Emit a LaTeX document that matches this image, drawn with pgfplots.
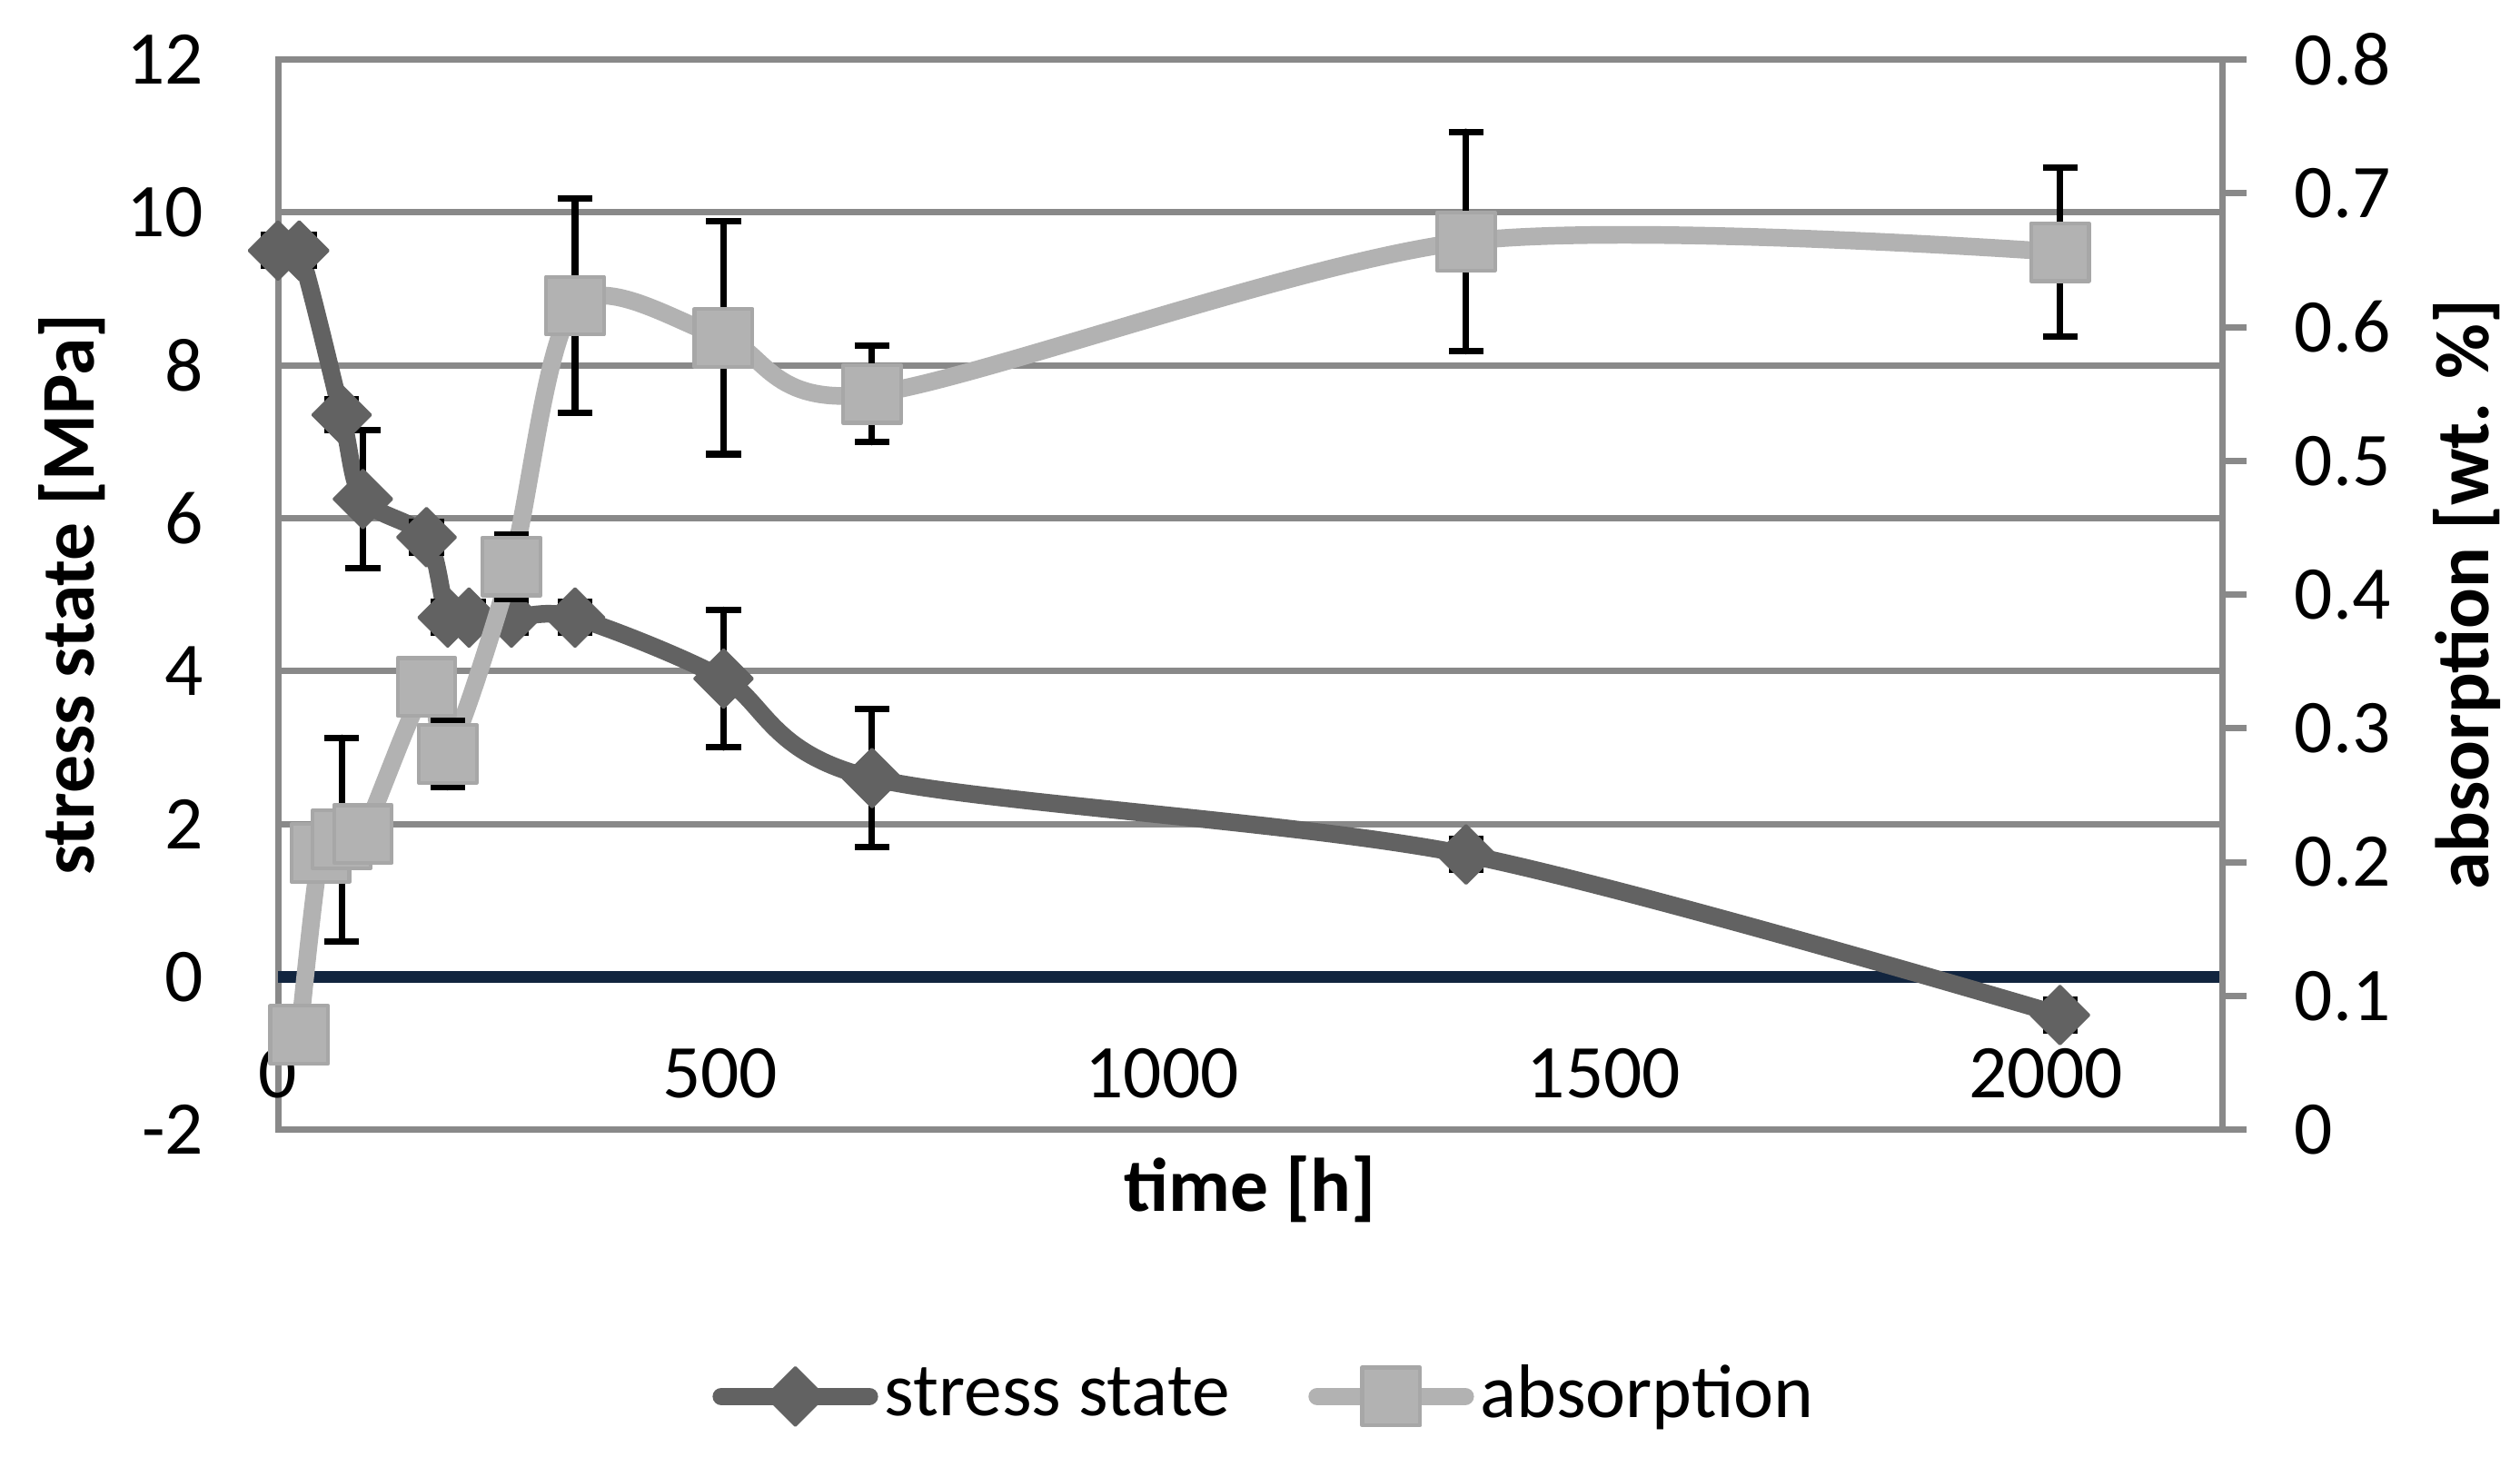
\documentclass[border=0pt]{standalone}
\usepackage{pgfplots}
\pgfplotsset{compat=1.18}
\usepackage{pgfplotstable}
\usepackage{fontspec}
\setmainfont{Carlito}
\definecolor{gridgray}{HTML}{898989}
\definecolor{sgray}{HTML}{626262}
\definecolor{agray}{HTML}{B2B2B2}
\definecolor{navy}{HTML}{12253F}
\pgfplotstableread{
h s e
0 9.5 0.2
24 9.5 0.2
72 7.35 0.2
96 6.25 0.9
168 5.75 0.2
192 4.7 0.2
216 4.7 0.2
264 4.7 0.2
336 4.7 0.2
504 3.9 0.9
672 2.6 0.9
1344 1.6 0.2
2016 -0.5 0.2
}\stresstab
\pgfplotstableread{
h a e
24 0.071 0.01
48 0.207 0.01
72 0.217 0.076
96 0.221 0.02
168 0.331 0.01
192 0.281 0.025
264 0.421 0.024
336 0.616 0.08
504 0.592 0.087
672 0.55 0.036
1344 0.664 0.082
2016 0.656 0.063
}\abstab
\pgfplotsset{
  stressstyle/.style={color=sgray, line width=2.75pt, line cap=round, line join=round,
    mark=square*, mark size=3.2pt,
    mark options={rotate=45, fill=sgray, draw=sgray, line width=0.4pt}},
  absstyle/.style={color=agray, line width=2.75pt, line cap=round, line join=round,
    mark=square*, mark size=4.5pt,
    mark options={fill=agray, draw=agray!94!black, line width=0.6pt}},
}
\begin{document}
\begin{tikzpicture}[font=\fontsize{11.8}{14}\selectfont]
\useasboundingbox (0,0) rectangle (392pt,228.1pt);
\begin{axis}[
  at={(43.25pt,52.35pt)}, anchor=south west,
  scale only axis, width=302.5pt, height=166.5pt,
  xmin=0, xmax=2200, ymin=-2, ymax=12,
  xtick={0,500,1000,1500,2000}, ytick={-2,0,2,4,6,8,10,12},
  ymajorgrids, grid style={gridgray, line width=1pt},
  axis line style={gridgray, line width=1pt},
  major tick length=0pt, tick style={draw=none},
  /pgf/number format/assume math mode=true,
  /pgf/number format/1000 sep={},
  scaled ticks=false,
  xticklabel style={anchor=center, yshift=8.75pt},
  yticklabel style={anchor=east, inner sep=0pt, xshift=-11.4pt},
  xlabel={\bfseries time [h]},
  xlabel style={at={(axis description cs:0.5,-0.0556)}, anchor=center},
  ylabel={\bfseries stress state [MPa]},
  ylabel style={at={(axis description cs:-0.1058,0.5)}, anchor=center},
  clip=false,
]
\addplot[navy, line width=1.75pt, forget plot] coordinates {(0,0) (2200,0)};
\addplot[stressstyle, smooth, forget plot,
  error bars/.cd, y dir=both, y explicit,
  error bar style={black, line width=1pt, solid},
  error mark options={rotate=90, black, mark size=2.7pt, line width=1pt}]
  table[x=h, y=s, y error=e] {\stresstab};
\end{axis}
\begin{axis}[
  at={(43.25pt,52.35pt)}, anchor=south west,
  scale only axis, width=302.5pt, height=166.5pt,
  xmin=0, xmax=2200, ymin=0, ymax=0.8,
  axis x line=none, axis y line*=right,
  ytick={0,0.1,0.2,0.3,0.4,0.5,0.6,0.7,0.8},
  axis line style={gridgray, line width=1pt, -},
  tick style={gridgray, line width=1pt},
  major tick length=3.7pt, tick align=outside,
  /pgf/number format/assume math mode=true,
  /pgf/number format/fixed, /pgf/number format/precision=1,
  yticklabel style={anchor=west, inner sep=0pt, xshift=7.3pt},
  ylabel={\bfseries absorption [wt. \%]},
  ylabel style={at={(axis description cs:1.1256,0.5)}, anchor=center},
  clip=false,
  legend style={draw=none, fill=none, at={(axis description cs:0.5083,-0.2492)}, anchor=center,
    legend columns=2, nodes={inner sep=1pt, font=\fontsize{11.8}{14}\selectfont},
    /tikz/every odd column/.append style={column sep=0pt},
    /tikz/every even column/.append style={column sep=11.25pt}},
  legend image code/.code={\draw[mark repeat=2, mark phase=2, #1] plot coordinates {(0pt,0pt) (11.5pt,0pt) (23pt,0pt)};},
]
\addlegendimage{stressstyle}
\addlegendentry{stress state}
\addplot[absstyle, smooth,
  error bars/.cd, y dir=both, y explicit,
  error bar style={black, line width=1pt, solid},
  error mark options={rotate=90, black, mark size=2.7pt, line width=1pt}]
  table[x=h, y=a, y error=e] {\abstab};
\addlegendentry{absorption}
\end{axis}
\end{tikzpicture}
\end{document}
